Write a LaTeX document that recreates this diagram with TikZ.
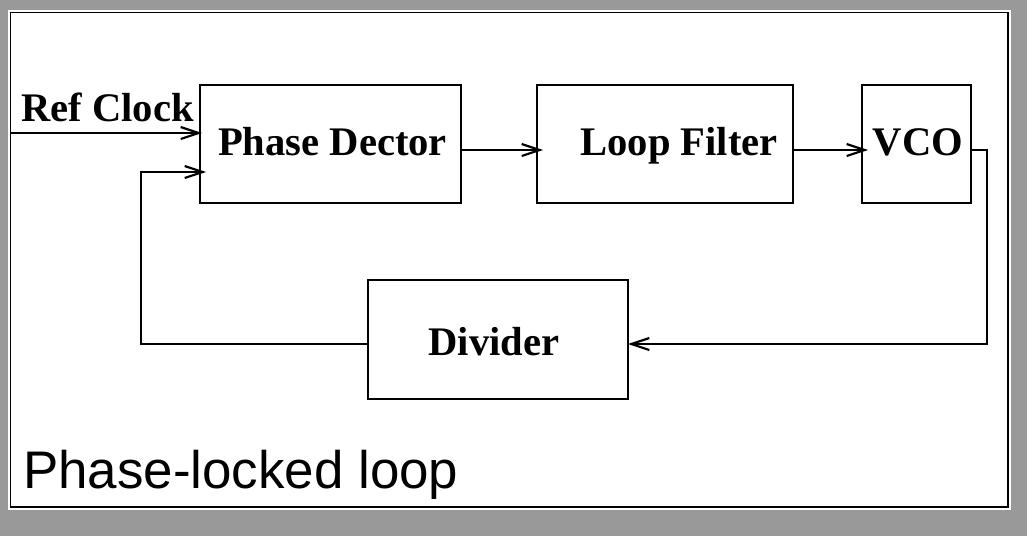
\documentclass[tikz,border=0pt]{standalone}
\usepackage{fontspec}
\setmainfont{Liberation Serif}
\newfontfamily\captionfont{Liberation Sans}
\usetikzlibrary{arrows.meta}
\definecolor{framegray}{HTML}{999999}
\tikzset{
  blk/.style={draw, line width=1.6pt, inner sep=0pt, minimum height=118pt,
    font=\fontsize{40.6}{44}\selectfont\bfseries, text height=28pt, text depth=6pt},
  sig/.style={line width=1.6pt, -{Straight Barb[length=18pt,width=12pt,line width=2.2pt]}},
  lbl/.style={inner sep=0pt, anchor=base west}
}
\begin{document}
\begin{tikzpicture}[x=1pt,y=-1pt]
	% page
	\fill[framegray] (0,0) rectangle (1027,536);
	\useasboundingbox (0,0) rectangle (1027,536);
	\fill[white] (8,10) rectangle (1011,510);
	\draw[line width=1.6pt] (10.5,12.5) rectangle (1008,507);
	
	% blocks
	\node[blk, minimum width=261pt] (pd) at (330.5,144) {\hspace*{4pt}Phase Dector};
	\node[blk, minimum width=256pt] (lf) at (665,144) {\hspace*{28pt}Loop Filter};
	\node[blk, minimum width=109pt] (vco) at (916.5,144) {\hspace*{3pt}VCO};
	\node[blk, minimum width=260pt, minimum height=119pt, text height=38pt] (dv) at (498,339.5) {Divider\hspace*{8pt}};
	
	% reference input
	\coordinate (ref) at (10,133);
	\node[lbl, font=\fontsize{40.6}{44}\selectfont\bfseries] (reflbl) at (21,121) {Ref Clock};
	\draw[sig, shorten >=-3pt] (ref) -- (pd.west |- ref);
	
	% forward path
	\draw[sig, shorten >=-7pt] ([yshift=-6pt]pd.east) -- ([yshift=-6pt]lf.west);
	\draw[sig, shorten >=-7pt] ([yshift=-6pt]lf.east) -- ([yshift=-6pt]vco.west);
	
	% feedback path
	\coordinate (vout) at (987,344);
	\coordinate (fb) at (141,344);
	\draw[sig, shorten >=-1pt] ([yshift=-6pt]vco.east) -| (vout) -- (dv.east |- vout);
	\draw[sig, shorten >=-7pt] (dv.west |- fb) -- (fb) |- ([yshift=-28pt]pd.west);
	
	% caption
	\node[lbl, font=\captionfont\fontsize{52.9}{60}\selectfont] (cap) at (23,488) {Phase-locked loop};
\end{tikzpicture}
\end{document}
